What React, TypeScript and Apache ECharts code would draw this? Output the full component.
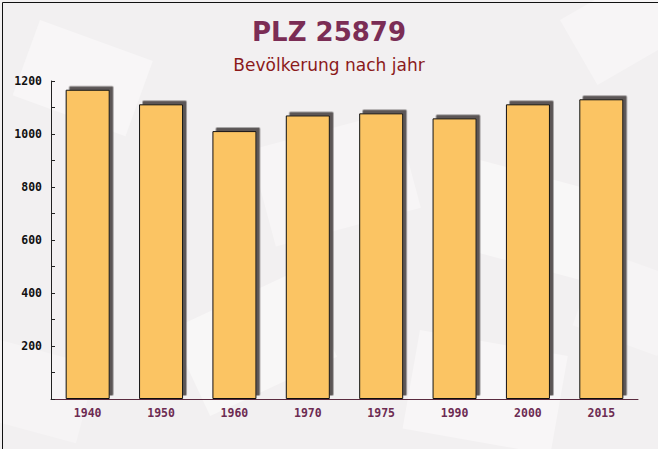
import React, { useEffect, useRef } from "react";
import * as echarts from "echarts";

const categories = ["1940", "1950", "1960", "1970", "1975", "1990", "2000", "2015"];
const population = [1167, 1112, 1011, 1070, 1078, 1059, 1112, 1131];
const titleText = "PLZ 25879";
const subtitleText = "Bevölkerung nach jahr";

export default function App() {
  const ref = useRef<HTMLDivElement>(null);
  useEffect(() => {
    document.body.style.margin = "0";
    const chart = echarts.init(ref.current!, undefined, { renderer: "svg" });
    const bgShapes = [
      { x: 40, y: 20, w: 120, h: 80, r: -20, c: "#f8f6f7" },
      { x: 250, y: 150, w: 150, h: 100, r: 15, c: "#f7f5f6" },
      { x: 480, y: 160, w: 130, h: 90, r: -15, c: "#f8f7f7" },
      { x: 560, y: 20, w: 110, h: 75, r: 30, c: "#f7f5f6" },
      { x: 170, y: 330, w: 140, h: 95, r: 25, c: "#f8f7f7" },
      { x: 0, y: 340, w: 100, h: 80, r: -15, c: "#f6f4f5" },
      { x: 420, y: 330, w: 150, h: 100, r: -10, c: "#f8f6f7" },
      { x: 600, y: 250, w: 90, h: 80, r: -20, c: "#f6f4f5" },
    ];
    chart.setOption({
      animation: false,
      backgroundColor: "#f2f0f1",
      graphic: [
        ...bgShapes.map((s) => ({
          type: "rect",
          x: s.x,
          y: s.y,
          rotation: (s.r * Math.PI) / 180,
          shape: { x: 0, y: 0, width: s.w, height: s.h },
          style: { fill: s.c },
          z: -10,
          silent: true,
        })),
        {
          type: "rect",
          left: 0,
          top: 0,
          shape: { x: 0.5, y: 0.5, width: 657, height: 448 },
          style: { fill: "none", stroke: "#111", lineWidth: 1 },
          z: 100,
          silent: true,
        },
      ],
      title: [
        {
          text: titleText,
          left: "center",
          top: 14,
          textStyle: {
            fontFamily: "DejaVu Sans",
            fontWeight: "bold",
            fontSize: 26,
            color: "#7b2d55",
          },
        },
        {
          text: subtitleText,
          left: "center",
          top: 51,
          textStyle: {
            fontFamily: "DejaVu Sans",
            fontWeight: "normal",
            fontSize: 17,
            color: "#8b1a1a",
          },
        },
      ],
      grid: { left: 51, right: 20, top: 81, bottom: 50 },
      xAxis: {
        type: "category",
        data: categories,
        axisLine: { lineStyle: { color: "#5a2a3f", width: 1 } },
        axisTick: { inside: true, length: 4, lineStyle: { color: "#5a2a3f" } },
        axisLabel: {
          color: "#6d2b52",
          fontFamily: "DejaVu Sans Mono",
          fontWeight: "bold",
          fontSize: 11.5,
          margin: 8,
        },
      },
      yAxis: {
        type: "value",
        min: 0,
        max: 1200,
        interval: 200,
        axisLine: { show: true, lineStyle: { color: "#222", width: 1 } },
        axisTick: { show: true, inside: true, length: 4, lineStyle: { color: "#222" } },
        minorTick: { show: true, splitNumber: 2, length: 4, lineStyle: { color: "#222" } },
        splitLine: { show: false },
        axisLabel: {
          color: "#111",
          fontFamily: "DejaVu Sans Mono",
          fontWeight: "bold",
          fontSize: 11.5,
          margin: 9,
          formatter: (v: number) => (v === 0 ? "" : String(v)),
        },
      },
      series: [
        {
          type: "bar",
          data: population,
          barWidth: "60%",
          itemStyle: {
            color: "#fbc464",
            borderColor: "#111",
            borderWidth: 1,
            shadowColor: "#5b5657",
            shadowBlur: 0,
            shadowOffsetX: 3.5,
            shadowOffsetY: -3.5,
          },
        },
      ],
    });
    return () => chart.dispose();
  }, []);
  return <div ref={ref} style={{ width: 658, height: 449 }} />;
}
